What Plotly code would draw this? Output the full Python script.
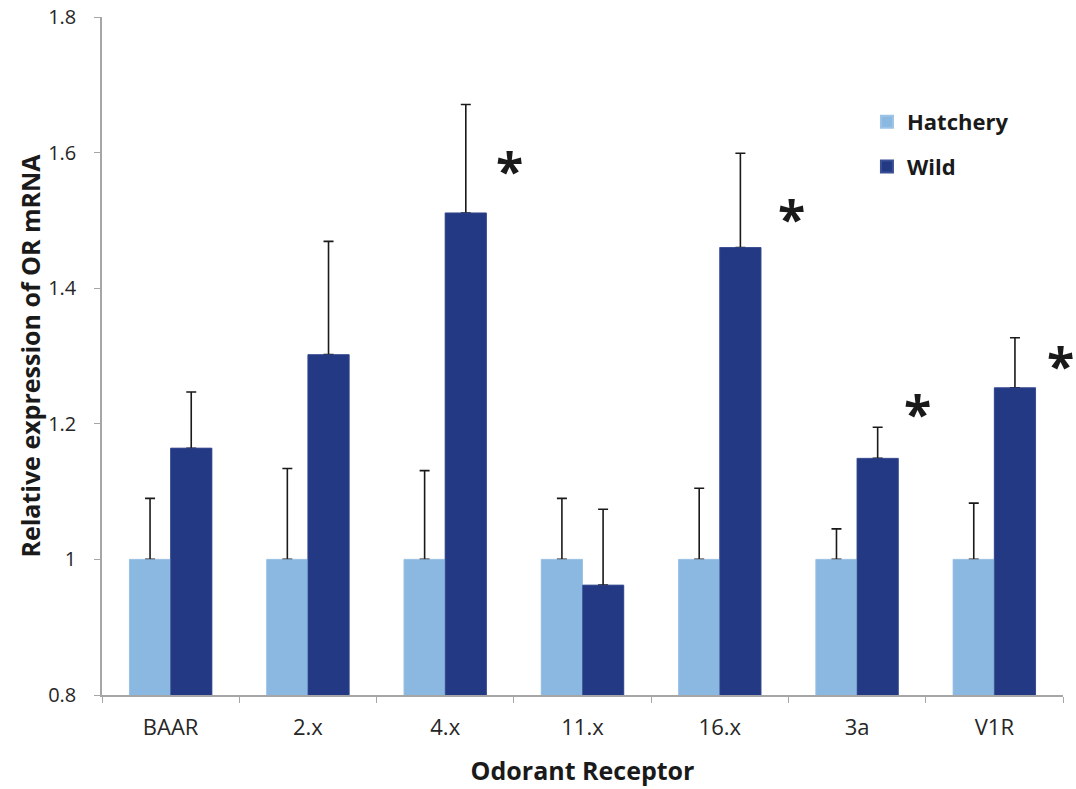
import plotly.graph_objects as go

categories = ["BAAR", "2.x", "4.x", "11.x", "16.x", "3a", "V1R"]
hatchery = [1.0, 1.0, 1.0, 1.0, 1.0, 1.0, 1.0]
hatchery_err = [0.090, 0.134, 0.131, 0.090, 0.105, 0.045, 0.083]
wild = [1.164, 1.302, 1.511, 0.962, 1.460, 1.149, 1.253]
wild_err = [0.083, 0.167, 0.160, 0.112, 0.139, 0.046, 0.074]
sig_index = [2, 4, 5, 6]
sig_offset = [0.47, 0.52, 0.44, 0.48]
sig_y = [1.582, 1.511, 1.223, 1.294]

font_main = "Open Sans"
c_hatch = "#8BB8E1"
c_wild = "#243984"
err_style = dict(type="data", symmetric=False, color="#1a1a1a", thickness=1.6, width=5)

fig = go.Figure()
# bars with error bars (plus side only)
fig.add_trace(go.Bar(
    name="Hatchery", x=categories, y=hatchery, offsetgroup="h", legendgroup="h",
    marker=dict(color=c_hatch, line=dict(color="#9cc3e6", width=0.6)),
    error_y=dict(array=hatchery_err, arrayminus=[0] * len(hatchery_err), **err_style),
))
fig.add_trace(go.Bar(
    name="Wild", x=categories, y=wild, offsetgroup="w", legendgroup="w",
    marker=dict(color=c_wild, line=dict(color="#3a4f94", width=0.6)),
    error_y=dict(array=wild_err, arrayminus=[0] * len(wild_err), **err_style),
))
# overlay same bars to hide the lower cap of the error bars
fig.add_trace(go.Bar(
    name="Hatchery", x=categories, y=hatchery, offsetgroup="h", showlegend=False, hoverinfo="skip",
    marker=dict(color=c_hatch, line=dict(color="#9cc3e6", width=0.6)),
))
fig.add_trace(go.Bar(
    name="Wild", x=categories, y=wild, offsetgroup="w", showlegend=False, hoverinfo="skip",
    marker=dict(color=c_wild, line=dict(color="#3a4f94", width=0.6)),
))

n = len(categories)
for i, off, yv in zip(sig_index, sig_offset, sig_y):
    fig.add_annotation(
        x=(i + off + 0.5) / n, y=yv, text="<b>*</b>", showarrow=False,
        font=dict(family=font_main, size=50, color="#1a1a1a"),
        xref="paper", yref="y", yshift=-5, xanchor="center", yanchor="middle")

fig.update_layout(
    width=1076, height=789,
    margin=dict(l=102, r=13, t=17, b=94),
    paper_bgcolor="white", plot_bgcolor="white",
    barmode="group", bargap=0.4, bargroupgap=0.0,
    font=dict(family=font_main, color="#262626"),
    legend=dict(x=0.796, y=0.876, xanchor="left", yanchor="top",
                font=dict(family=font_main, size=22, color="#1a1a1a", weight="bold"),
                bgcolor="rgba(0,0,0,0)", itemsizing="constant", tracegroupgap=13),
    showlegend=True,
)
fig.update_xaxes(
    automargin=False, ticklabeloverflow="allow",
    showline=True, linecolor="#a6a6a6", linewidth=1.5,
    ticks="outside", tickson="boundaries", ticklen=6, tickcolor="#a6a6a6",
    tickfont=dict(family=font_main, size=22, color="#262626"), ticklabelstandoff=12,
    title=dict(text="<b>Odorant Receptor</b>", font=dict(family=font_main, size=25, color="#1a1a1a"), standoff=22),
    showgrid=False, range=[-0.5, 6.5],
)
fig.update_yaxes(
    automargin=False, ticklabeloverflow="allow",
    range=[0.8, 1.8], tickvals=[0.8, 1.0, 1.2, 1.4, 1.6, 1.8],
    ticktext=["0.8", "1", "1.2", "1.4", "1.6", "1.8"],
    showline=True, linecolor="#a6a6a6", linewidth=1.5,
    ticks="outside", ticklen=6, tickcolor="#a6a6a6",
    tickfont=dict(family=font_main, size=20, color="#262626"), ticklabelstandoff=14,
    title=dict(text="<b>Relative expression of OR mRNA</b>", font=dict(family=font_main, size=25, color="#1a1a1a"), standoff=0),
    showgrid=False, zeroline=False,
)

fig.write_html("out.html", config={"displayModeBar": False},
               post_script="document.body.style.margin='0';")
